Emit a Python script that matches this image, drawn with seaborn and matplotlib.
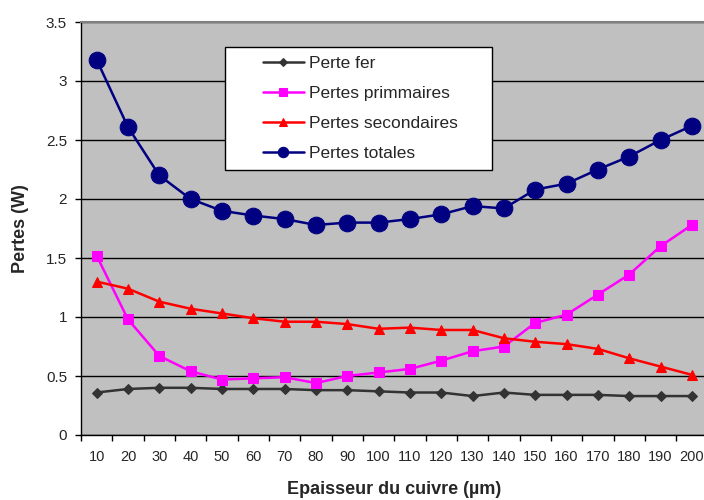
import numpy as np
import matplotlib
matplotlib.use('Agg')
import matplotlib.pyplot as plt
from matplotlib.patches import Rectangle
import pandas as pd
import seaborn as sns

# data
epaisseur = [10, 20, 30, 40, 50, 60, 70, 80, 90, 100,
             110, 120, 130, 140, 150, 160, 170, 180, 190, 200]
perte_fer = [0.36, 0.39, 0.40, 0.40, 0.39, 0.39, 0.39, 0.38, 0.38, 0.37,
             0.36, 0.36, 0.33, 0.36, 0.34, 0.34, 0.34, 0.33, 0.33, 0.33]
pertes_prim = [1.52, 0.98, 0.67, 0.54, 0.47, 0.48, 0.49, 0.44, 0.50, 0.53,
               0.56, 0.63, 0.71, 0.75, 0.95, 1.02, 1.19, 1.36, 1.60, 1.78]
pertes_sec = [1.30, 1.24, 1.13, 1.07, 1.03, 0.99, 0.96, 0.96, 0.94, 0.90,
              0.91, 0.89, 0.89, 0.82, 0.79, 0.77, 0.73, 0.65, 0.58, 0.51]
pertes_tot = [3.18, 2.61, 2.20, 2.00, 1.90, 1.86, 1.83, 1.78, 1.80, 1.80,
              1.83, 1.87, 1.94, 1.92, 2.08, 2.13, 2.25, 2.36, 2.50, 2.62]
y_ticks = [0, 0.5, 1, 1.5, 2, 2.5, 3, 3.5]
y_labels = ['0', '0.5', '1', '1.5', '2', '2.5', '3', '3.5']

series = {
    'Perte fer': perte_fer,
    'Pertes primmaires': pertes_prim,
    'Pertes secondaires': pertes_sec,
    'Pertes totales': pertes_tot,
}
# colour, marker, size on plot, size in legend
styles = {
    'Perte fer': ('#333333', 'D', 5, 4.5),
    'Pertes primmaires': ('#FF00FF', 's', 6.5, 5.5),
    'Pertes secondaires': ('#FF0000', '^', 7.5, 6),
    'Pertes totales': ('#000080', 'o', 12, 7.5),
}

sns.set_theme(style='white')
plt.rcParams['font.family'] = ['Liberation Sans', 'DejaVu Sans']

fig = plt.figure(figsize=(7.04, 5), dpi=100)
ax = fig.add_axes([0.115, 0.13, 0.89, 0.826])
ax.set_facecolor('#C0C0C0')

idx = np.arange(len(epaisseur))
for name, vals in series.items():
    color, marker, ms, _ = styles[name]
    df = pd.DataFrame({'x': idx, 'y': vals})
    sns.lineplot(data=df, x='x', y='y', ax=ax, color=color, marker=marker,
                 markersize=ms, markeredgecolor=color, linewidth=1.8,
                 label=name, zorder=3)

ax.set_xlim(-0.5, len(epaisseur) - 0.5)
ax.set_ylim(0, 3.5)
ax.set_yticks(y_ticks)
ax.set_yticklabels(y_labels)
ax.set_xticks(idx)
ax.set_xticklabels([str(v) for v in epaisseur])
ax.set_xticks(np.arange(-0.5, len(epaisseur), 1), minor=True)
ax.tick_params(axis='x', which='major', length=0, labelsize=10.5, pad=11)
ax.tick_params(axis='x', which='minor', length=4, width=1, color='black',
               direction='out', bottom=True)
ax.tick_params(axis='y', length=4, width=1, color='black', direction='out',
               left=True, labelsize=11, pad=6)
ax.yaxis.grid(True, color='black', linewidth=1)
ax.set_axisbelow(True)

for s in ['top', 'right']:
    ax.spines[s].set_color('#808080')
    ax.spines[s].set_linewidth(1.5)
for s in ['left', 'bottom']:
    ax.spines[s].set_color('black')
    ax.spines[s].set_linewidth(1)

ax.set_xlabel('Epaisseur du cuivre (µm)', fontsize=13, fontweight='bold',
              labelpad=12)
ax.set_ylabel('Pertes (W)', fontsize=13, fontweight='bold', labelpad=12)

# legend box drawn separately so the inner padding matches
ax.add_patch(Rectangle((0.2298, 0.642), 0.4262, 0.297, transform=ax.transAxes,
                       facecolor='white', edgecolor='black', linewidth=1,
                       zorder=4))
leg = ax.legend(loc='upper left', bbox_to_anchor=(0.29, 0.918), fontsize=12.5,
                frameon=False, handlelength=2.4, borderpad=0,
                labelspacing=0.86, handletextpad=0.25, borderaxespad=0)
leg.set_zorder(5)
for h, name in zip(leg.legend_handles, series):
    h.set_markersize(styles[name][3])

fig.savefig('out.png', dpi=100)
